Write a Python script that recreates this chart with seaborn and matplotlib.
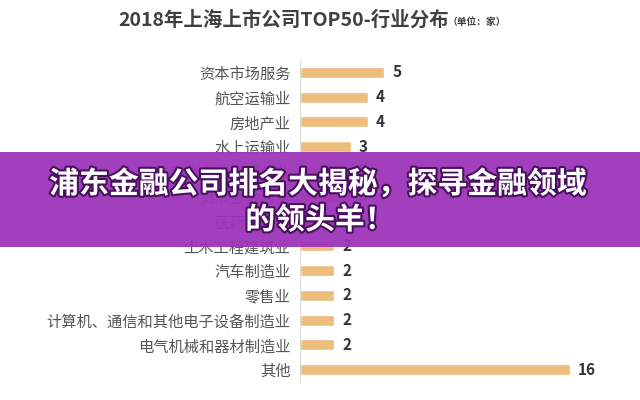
import pandas as pd
import seaborn as sns
import matplotlib.pyplot as plt
import matplotlib.patheffects as pe
from matplotlib.patches import Rectangle

categories = ['资本市场服务', '航空运输业', '房地产业', '水上运输业', '软件和信息技术服务业',
              '货币金融服务', '医药制造业', '土木工程建筑业', '汽车制造业', '零售业',
              '计算机、通信和其他电子设备制造业', '电气机械和器材制造业', '其他']
counts = [5, 4, 4, 3, 3, 3, 2, 2, 2, 2, 2, 2, 16]

title = '2018年上海上市公司TOP50-行业分布'
unit = '（单位：家）'
banner_line1 = '浦东金融公司排名大揭秘，探寻金融领域'
banner_line2 = '的领头羊！'

sns.set_style('white')
plt.rcParams['font.family'] = ['Noto Sans CJK SC', 'DejaVu Sans']

df = pd.DataFrame({'industry': categories, 'count': counts})

fig = plt.figure(figsize=(6.4, 4), dpi=100)
ax = fig.add_axes([0.469, 0.045, 0.5, 0.805])
sns.barplot(data=df, x='count', y='industry', color='#EDBD7C', width=0.45,
            saturation=1, ax=ax)
ax.set_xlim(0, 19)
ax.set_xlabel('')
ax.set_ylabel('')
ax.set_xticks([])
for s in ['top', 'right', 'bottom']:
    ax.spines[s].set_visible(False)
ax.spines['left'].set_color('#DDDDDD')
ax.tick_params(axis='y', length=0, pad=7, labelsize=11, labelcolor='#555555')

for c in ax.containers:
    ax.bar_label(c, padding=6, fontsize=11, fontweight='bold', color='#333333')

fig.text(0.443, 0.95, title, ha='center', va='center', fontsize=14,
         fontweight='bold', color='#404040')
fig.text(0.745, 0.946, unit, ha='center', va='center', fontsize=7,
         fontweight='bold', color='#404040')

# purple overlay banner
fig.patches.append(Rectangle((0, 1 - 247 / 400), 1, 95 / 400, transform=fig.transFigure,
                             facecolor='#9D34B9', alpha=0.95, edgecolor='none', zorder=5))
effects = [pe.withStroke(linewidth=3, foreground='#4A1060')]
fig.text(0.497, 1 - 184 / 400, banner_line1, ha='center', va='center', fontsize=21.5,
         fontweight='heavy', color='white', path_effects=effects, zorder=6)
fig.text(0.5, 1 - 220 / 400, banner_line2, ha='center', va='center', fontsize=21.5,
         fontweight='heavy', color='white', path_effects=effects, zorder=6)

fig.savefig('out.png', dpi=100, facecolor='white')
